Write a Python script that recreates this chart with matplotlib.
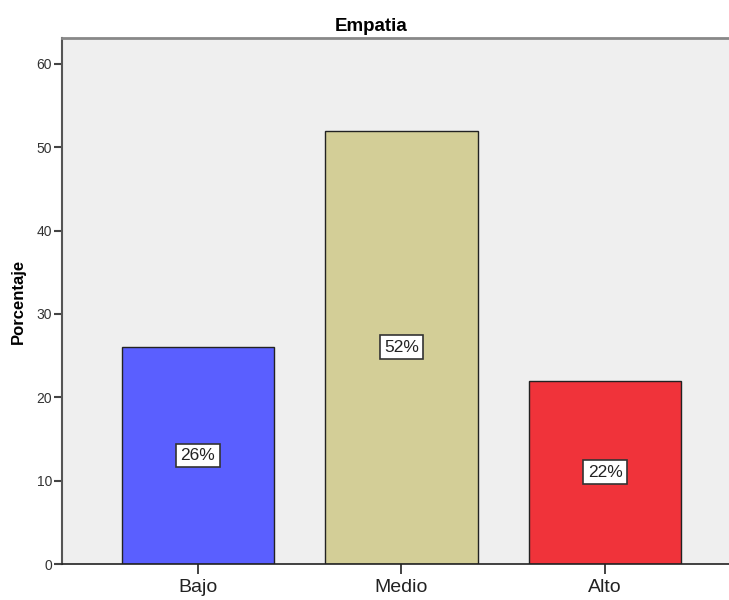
import matplotlib
matplotlib.use('Agg')
import matplotlib.pyplot as plt
import numpy as np

categories = ['Bajo', 'Medio', 'Alto']
percentages = [26, 52, 22]
bar_colors = ['#5a5fff', '#d3ce97', '#f0333a']
yticks = [0, 10, 20, 30, 40, 50, 60]

plt.rcParams['font.family'] = ['Liberation Sans', 'DejaVu Sans']

fig = plt.figure(figsize=(7.29, 6.0), dpi=100)
ax = fig.add_axes([0.085, 0.06, 0.915, 0.8767])
ax.set_facecolor('#efefef')

x = np.arange(len(categories))
bars = ax.bar(x, percentages, width=0.75, color=bar_colors,
              edgecolor='#222222', linewidth=1.0, zorder=2)

for xi, v in zip(x, percentages):
    ax.text(xi, v / 2, '{}%'.format(v), ha='center', va='center', fontsize=12.5,
            color='#222222',
            bbox=dict(boxstyle='square,pad=0.25', facecolor='white',
                      edgecolor='#333333', linewidth=1.2), zorder=3)

ax.set_xlim(-0.668, 2.609)
ax.set_ylim(0, 63.1)
ax.set_xticks(x)
ax.set_xticklabels(categories, fontsize=14, color='#222222')
ax.set_yticks(yticks)
ax.tick_params(axis='y', labelsize=10, length=6, width=1.5, color='#444444',
               labelcolor='#333333', pad=1)
ax.tick_params(axis='x', length=7, width=1.2, color='#222222', pad=4)

ax.spines['top'].set_color('#888888')
ax.spines['top'].set_linewidth(2)
ax.spines['left'].set_color('#555555')
ax.spines['left'].set_linewidth(1.5)
ax.spines['bottom'].set_color('#222222')
ax.spines['bottom'].set_linewidth(1.2)
ax.spines['right'].set_visible(False)

ax.set_title('Empatia', fontsize=13.5, fontweight='bold', pad=5, x=0.464)
ax.set_ylabel('Porcentaje', fontsize=12, fontweight='bold', labelpad=8)

fig.savefig('out.png', dpi=100)
